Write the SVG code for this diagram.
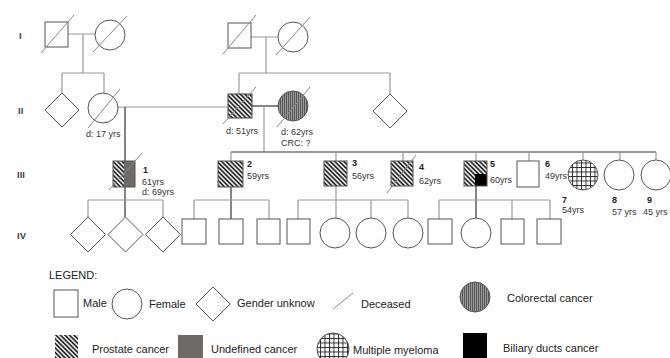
<svg xmlns="http://www.w3.org/2000/svg" width="670" height="358" viewBox="0 0 670 358">
<defs>
<pattern id="hatch" patternUnits="userSpaceOnUse" width="3.2" height="3.2" patternTransform="rotate(-45)">
<rect width="3.2" height="3.2" fill="#fff"/>
<line x1="1" y1="0" x2="1" y2="3.2" stroke="#111" stroke-width="1.6"/>
</pattern>
<pattern id="vstripe" patternUnits="userSpaceOnUse" width="2" height="4">
<rect width="2" height="4" fill="#9a9a9a"/>
<line x1="0.5" y1="0" x2="0.5" y2="4" stroke="#555" stroke-width="1"/>
</pattern>
<pattern id="grid" patternUnits="userSpaceOnUse" width="4.5" height="4.5" x="0.5" y="0.5">
<rect width="4.5" height="4.5" fill="#fff"/>
<path d="M0 0.5H4.5M0.5 0V4.5" stroke="#222" stroke-width="0.9"/>
</pattern>
</defs>
<style>
.s{fill:#fff;stroke:#555;stroke-width:1}
.d{stroke:#888;stroke-width:1}
.l{stroke:#999;stroke-width:1.2;fill:none}
.k{stroke:#333;stroke-width:1.2;fill:none}
text{font-family:"Liberation Sans",Arial,sans-serif;fill:#333}
.g{font-size:9.5px;font-weight:bold;fill:#444}
.t{font-size:9px}
.n{font-size:9px;font-weight:bold;fill:#222}
.lg{font-size:11px;fill:#222}
</style>

<g id="gen-labels">
<text class="g" x="19" y="39">I</text>
<text class="g" x="18" y="114">II</text>
<text class="g" x="17" y="178">III</text>
<text class="g" x="17" y="239">IV</text>
</g>

<g id="connectors">
<path class="l" d="M68 34H96M83 34V73M62 73H104M62 73V93M104 73V93"/>
<path class="l" d="M118 107H228"/>
<path class="k" d="M125 107V161"/>
<path class="l" d="M251 37H278M266 37V73M239 73H390M239 73V94M390 73V94"/>
<path class="k" d="M252 106H278"/>
<path class="l" d="M264 106V152"/>
<path class="k" d="M231 152H656"/>
<path class="l" d="M231 152V161M336 152V161M403 152V161M476 152V161M529 152V161M583 152V160M620 152V160M656 152V160"/>
<path class="k" d="M125 187V217"/>
<path class="l" d="M88 200H163M88 200V217M163 200V217"/>
<path class="k" d="M231 187V219"/>
<path class="l" d="M194 200H269M194 200V219M269 200V219"/>
<path class="l" d="M336 186V218M298 200H408M298 200V219M371 200V218M408 200V218"/>
<path class="k" d="M476 186V218"/>
<path class="l" d="M439 200H550M439 200V219M512 200V219M550 200V219"/>
</g>

<g id="I-1"><rect class="s" x="45" y="22" width="23" height="25" stroke="#333"/><line class="d" x1="41" y1="53" x2="74" y2="15"/></g>
<g id="I-2"><circle class="s" cx="110" cy="35" r="15"/><line class="d" x1="93" y1="52" x2="127" y2="16"/></g>
<g id="I-3"><rect class="s" x="228" y="23" width="23" height="25"/><line class="d" x1="223" y1="54" x2="256" y2="15"/></g>
<g id="I-4"><circle class="s" cx="293" cy="37" r="15"/><line class="d" x1="276" y1="55" x2="310" y2="17"/></g>

<g id="II-1"><polygon class="s" points="62,93 79,110 62,127 45,110"/></g>
<g id="II-2"><circle class="s" cx="103" cy="108" r="15"/><line class="d" x1="88" y1="128" x2="120" y2="89"/>
<text class="t" x="86" y="137">d: 17 yrs</text></g>
<g id="II-3"><rect x="228" y="94" width="24" height="24" fill="url(#hatch)" stroke="#444"/><line class="d" x1="223" y1="124" x2="256" y2="87"/>
<text class="t" x="226" y="134">d: 51yrs</text></g>
<g id="II-4"><circle cx="293" cy="106" r="15" fill="url(#vstripe)" stroke="#555"/><line class="d" x1="277" y1="127" x2="310" y2="87"/>
<text class="t" x="281" y="135">d: 62yrs</text><text class="t" x="281" y="146">CRC: ?</text></g>
<g id="II-5"><polygon class="s" points="390,94 407,111 390,128 373,111"/></g>

<g id="III-1"><rect x="113" y="161" width="11" height="26" fill="url(#hatch)"/><rect x="124" y="161" width="11" height="26" fill="#6e6a6a"/><rect x="113" y="161" width="22" height="26" fill="none" stroke="#555"/><line class="d" x1="109" y1="190" x2="142" y2="153"/>
<text class="n" x="143" y="173">1</text><text class="t" x="142" y="185">61yrs</text><text class="t" x="142" y="195">d: 69yrs</text></g>
<g id="III-2"><rect x="218" y="161" width="25" height="26" fill="url(#hatch)" stroke="#555"/>
<text class="n" x="247" y="167">2</text><text class="t" x="247" y="179">59yrs</text></g>
<g id="III-3"><rect x="324" y="161" width="23" height="25" fill="url(#hatch)" stroke="#555"/>
<text class="n" x="352" y="166">3</text><text class="t" x="352" y="179">56yrs</text></g>
<g id="III-4"><rect x="391" y="161" width="22" height="25" fill="url(#hatch)" stroke="#555"/><line class="d" x1="387" y1="193" x2="416" y2="155"/>
<text class="n" x="419" y="170">4</text><text class="t" x="419" y="184">62yrs</text></g>
<g id="III-5"><rect x="464" y="161" width="23" height="25" fill="url(#hatch)"/><rect x="475" y="174" width="12" height="12" fill="#000"/><rect x="464" y="161" width="23" height="25" fill="none" stroke="#555"/>
<text class="n" x="490" y="167">5</text><text class="t" x="490" y="183">60yrs</text></g>
<g id="III-6"><rect class="s" x="517" y="161" width="22" height="26"/>
<text class="n" x="545" y="167">6</text><text class="t" x="545" y="179">49yrs</text></g>
<g id="III-7"><circle cx="583" cy="175" r="15" fill="url(#grid)" stroke="#555"/>
<text class="n" x="562" y="203">7</text><text class="t" x="562" y="213">54yrs</text></g>
<g id="III-8"><circle class="s" cx="619" cy="175" r="15"/>
<text class="n" x="612" y="203">8</text><text class="t" x="612" y="215">57 yrs</text></g>
<g id="III-9"><circle class="s" cx="656" cy="175" r="15"/>
<text class="n" x="647" y="203">9</text><text class="t" x="643" y="215">45 yrs</text></g>

<g id="IV-1"><polygon class="s" points="88,217 105.5,234.5 88,252 70.5,234.5"/></g>
<g id="IV-2"><polygon class="s" points="125.5,217 143,234.5 125.5,252 108,234.5"/></g>
<g id="IV-3"><polygon class="s" points="163,217 180.5,234.5 163,252 145.5,234.5"/></g>
<g id="IV-4"><rect class="s" x="182" y="219" width="24" height="25"/></g>
<g id="IV-5"><rect class="s" x="219" y="219" width="24" height="25"/></g>
<g id="IV-6"><rect class="s" x="257" y="219" width="23" height="25"/></g>
<g id="IV-7"><rect class="s" x="287" y="219" width="23" height="25"/></g>
<g id="IV-8"><circle class="s" cx="335" cy="233" r="15"/></g>
<g id="IV-9"><circle class="s" cx="371" cy="233" r="15"/></g>
<g id="IV-10"><circle class="s" cx="408" cy="233" r="15"/></g>
<g id="IV-11"><rect class="s" x="428" y="219" width="24" height="25"/></g>
<g id="IV-12"><circle class="s" cx="476" cy="233" r="15"/></g>
<g id="IV-13"><rect class="s" x="501" y="219" width="23" height="25"/></g>
<g id="IV-14"><rect class="s" x="537" y="219" width="24" height="25"/></g>

<g id="legend">
<text class="lg" x="49" y="279">LEGEND:</text>
<rect class="s" x="54" y="290" width="24" height="27"/>
<text class="lg" x="83" y="307">Male</text>
<circle class="s" cx="127" cy="304" r="15"/>
<text class="lg" x="149" y="308">Female</text>
<polygon class="s" points="213,287 230,304 213,321 196,304"/>
<text class="lg" x="237" y="307">Gender unknow</text>
<line class="d" x1="333" y1="309" x2="353" y2="293"/>
<text class="lg" x="361" y="308">Deceased</text>
<circle cx="475" cy="297" r="15" fill="url(#vstripe)" stroke="#555"/>
<text class="lg" x="507" y="302">Colorectal cancer</text>
<rect x="55" y="335" width="23" height="24" fill="url(#hatch)"/>
<text class="lg" x="92" y="353">Prostate cancer</text>
<rect x="178" y="335" width="25" height="24" fill="#6e6a6a"/>
<text class="lg" x="211" y="353">Undefined cancer</text>
<circle cx="333" cy="349" r="16" fill="url(#grid)" stroke="#444"/>
<text class="lg" x="353" y="354">Multiple myeloma</text>
<rect x="463" y="333" width="24" height="26" fill="#000"/>
<text class="lg" x="503" y="352">Biliary ducts cancer</text>
</g>
</svg>
